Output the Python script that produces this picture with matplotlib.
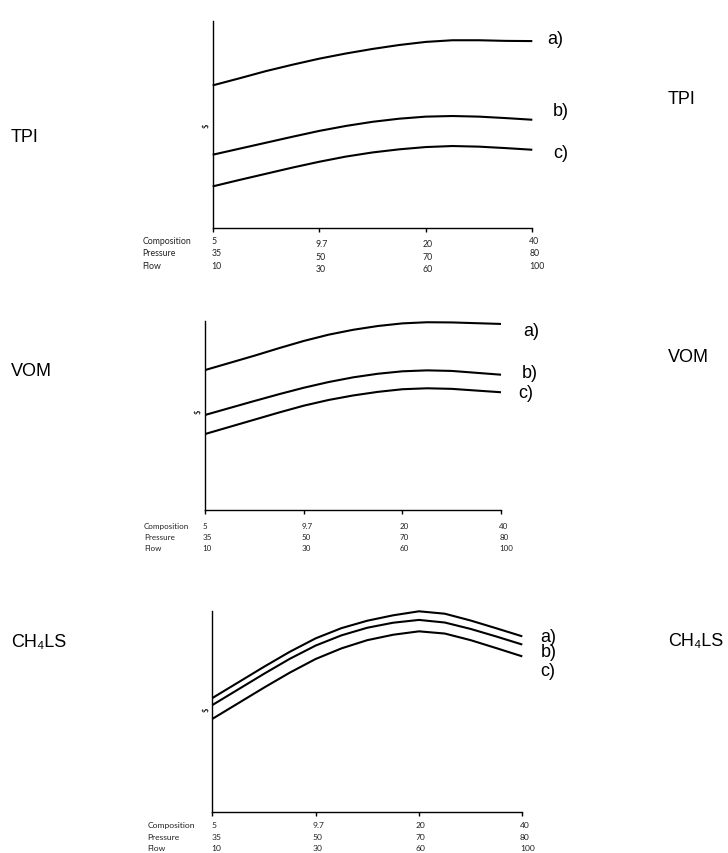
import matplotlib
matplotlib.use('Agg')
from matplotlib import pyplot as plt

# column positions of the four x ticks, curves read every quarter step
x_pos = [0, 0.25, 0.5, 0.75, 1, 1.25, 1.5, 1.75, 2, 2.25, 2.5, 2.75, 3]

# y values in % of the drawn y axis height
tpi_a = [68.9, 72.3, 75.8, 78.9, 81.8, 84.3, 86.5, 88.4, 89.9, 90.7, 90.7, 90.4, 90.3]
tpi_b = [35.4, 38.3, 41.2, 44.1, 46.9, 49.3, 51.3, 52.8, 53.8, 54.1, 53.8, 53.1, 52.3]
tpi_c = [20.1, 23.2, 26.2, 29.2, 32.0, 34.5, 36.5, 38.0, 39.1, 39.6, 39.3, 38.6, 37.8]

vom_a = [74.2, 78.0, 81.8, 85.8, 89.6, 92.9, 95.5, 97.5, 98.9, 99.5, 99.4, 99.0, 98.6]
vom_b = [50.4, 54.1, 57.8, 61.4, 64.8, 67.8, 70.3, 72.2, 73.5, 74.0, 73.7, 72.7, 71.7]
vom_c = [40.3, 44.1, 47.9, 51.7, 55.3, 58.3, 60.7, 62.6, 64.0, 64.5, 64.2, 63.3, 62.4]

ch4_a = [56.7, 64.5, 72.3, 79.8, 86.5, 91.6, 95.3, 98.0, 100.0, 98.8, 95.4, 91.5, 87.5]
ch4_b = [53.2, 61.0, 68.8, 76.3, 82.9, 88.0, 91.8, 94.3, 95.7, 94.4, 91.2, 87.4, 83.4]
ch4_c = [46.3, 54.1, 61.9, 69.4, 76.2, 81.5, 85.6, 88.3, 90.0, 88.9, 85.6, 81.6, 77.5]

ticks = [0, 1, 2, 3]
composition = ['5', '9.7', '20', '40']
pressure = ['35', '50', '70', '80']
flow = ['10', '30', '60', '100']
row_names = ['Composition', 'Pressure', 'Flow']
panel_names = ['TPI', 'VOM', 'CH\u2084LS']
curve_names = ['a)', 'b)', 'c)']

W, H = 728, 854
fig = plt.figure(figsize=(W / 100, H / 100), dpi=100)


def px_rect(left, right, top, bottom):
    return [left / W, (H - bottom) / H, (right - left) / W, (bottom - top) / H]


# layout of each panel, all in pixels
panels = [
    dict(rect=(212.7, 532.3, 22, 229), curves=(tpi_a, tpi_b, tpi_c),
         col_dx=[-1, -4, -3, -3], row_dy=[[12.7, 25, 37.7], [16, 28.7, 41], [16, 28.7, 41], [12.7, 25, 37.7]],
         row_x=142.7, fs=6.3, dollar=(-6.7, 0.50),
         lab_xy=[(547, 40), (553, 111), (553, 154)],
         left_y=138, right_y=100),
    dict(rect=(205.3, 501, 322.3, 511), curves=(vom_a, vom_b, vom_c),
         col_dx=[-2.6, -2, -2.6, -1.7], row_dy=[[15.7, 26.7, 37.3]] * 4,
         row_x=144, fs=5.8, dollar=(-7.3, 0.526),
         lab_xy=[(523, 331.7), (521.7, 373.3), (518, 394)],
         left_y=372, right_y=358),
    dict(rect=(212.3, 522.3, 612.3, 812.7), curves=(ch4_a, ch4_b, ch4_c),
         col_dx=[-0.6, -2.7, -3, -2.3], row_dy=[[13, 24.6, 35.6]] * 4,
         row_x=147.7, fs=6.1, dollar=(-6.2, 0.516),
         lab_xy=[(540.7, 637), (540.7, 652.5), (540.7, 671.7)],
         left_y=643, right_y=642),
]

small = 'Lato'
big = ['Liberation Sans', 'DejaVu Sans']

for p, name in zip(panels, panel_names):
    l, r, t, b = p['rect']
    ax = fig.add_axes(px_rect(l, r, t, b))
    for ys in p['curves']:
        ax.plot(x_pos, ys, color='black', lw=1.5, clip_on=False,
                solid_capstyle='butt', solid_joinstyle='round')
    ax.set_xlim(0, 3)
    ax.set_ylim(0, 100)
    for s in ('top', 'right'):
        ax.spines[s].set_visible(False)
    for s in ('left', 'bottom'):
        ax.spines[s].set_linewidth(1.0)
    ax.set_yticks([])
    ax.set_xticks(ticks)
    ax.set_xticklabels([])
    ax.tick_params(axis='x', direction='out', length=3, width=1.0)

    # three rows of tick labels under each tick
    for i, col in enumerate(zip(composition, pressure, flow)):
        for j, txt in enumerate(col):
            ax.annotate(txt, xy=(ticks[i], 0), xycoords=ax.get_xaxis_transform(),
                        xytext=(p['col_dx'][i], -p['row_dy'][i][j]), textcoords='offset pixels',
                        ha='left', va='center', fontsize=p['fs'], family=small, color='#222222')
    for j, rn in enumerate(row_names):
        ax.annotate(rn, xy=(0, 0), xycoords='axes fraction',
                    xytext=(p['row_x'] - l, -p['row_dy'][0][j]), textcoords='offset pixels',
                    ha='left', va='center', fontsize=p['fs'], family=small, color='#222222')

    dx, fy = p['dollar']
    ax.annotate('$', xy=(0, fy), xycoords='axes fraction', xytext=(dx, 0),
                textcoords='offset pixels', rotation=90, ha='center', va='center',
                fontsize=5.5, family=small)

    for (lx, ly), cn in zip(p['lab_xy'], curve_names):
        fig.text(lx / W, 1 - ly / H, cn, ha='left', va='center', fontsize=13, family=big)

    fig.text(10.7 / W, 1 - p['left_y'] / H, name, ha='left', va='center', fontsize=13, family=big)
    fig.text(668 / W, 1 - p['right_y'] / H, name, ha='left', va='center', fontsize=13, family=big)

fig.savefig('out.png', dpi=100, facecolor='white')
